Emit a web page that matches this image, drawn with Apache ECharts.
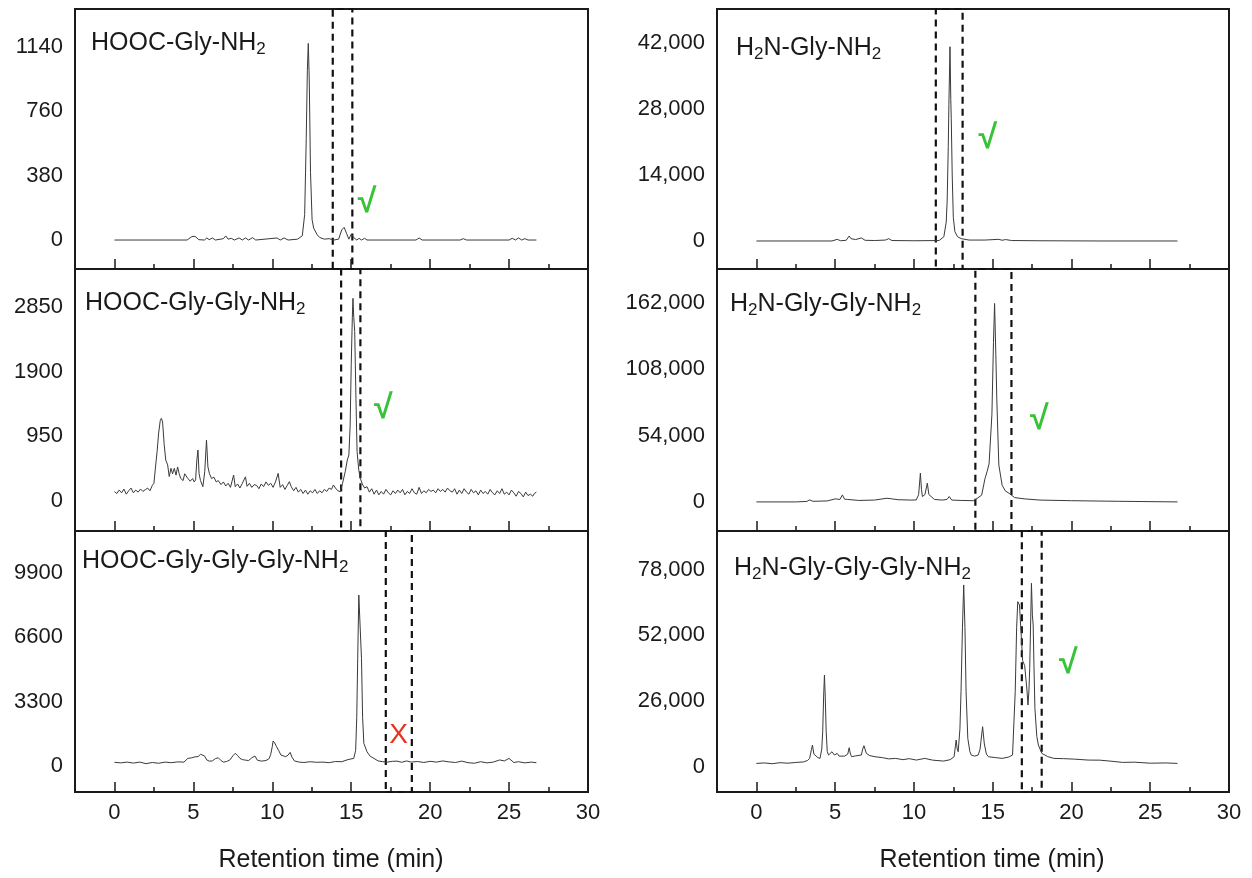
<!DOCTYPE html>
<html>
<head>
<meta charset="utf-8">
<title>Retention time chromatograms</title>
<script src="https://cdn.jsdelivr.net/npm/echarts@6/dist/echarts.min.js"></script>
<style>
  html, body { margin: 0; padding: 0; background: #fff; }
  #chart { width: 1252px; height: 878px; }
</style>
</head>
<body>
<div id="chart"></div>
<script>
// x axis (min)
const xLabelValues = [0, 5, 10, 15, 20, 25, 30];
const xMajorTicks = [0, 5, 10, 15, 20, 25];
const xMinorTicks = [2.5, 7.5, 12.5, 17.5, 22.5, 27.5];

// HOOC-Gly-NH2
const hooc1Time = [0, 4.6, 4.9, 5.1, 5.35, 5.7, 5.85, 6.0, 6.2, 6.4,
  6.9, 7.05, 7.2, 7.4, 7.6, 7.9, 8.1, 8.3, 8.5, 8.75,
  8.95, 10.3, 10.5, 10.75, 11.0, 11.6, 11.9, 12.05, 12.15, 12.22,
  12.28, 12.34, 12.42, 12.52, 12.62, 12.7, 12.85, 13.0, 13.3, 13.6,
  13.9, 14.2, 14.4, 14.55, 14.7, 14.85, 15.0, 15.15, 15.35, 15.5,
  15.65, 15.85, 16.0, 19.1, 19.3, 19.5, 21.9, 22.1, 22.3, 25.0,
  25.2, 25.4, 25.6, 25.8, 26.0, 26.2, 26.73];
const hooc1Signal = [0, 0, 20, 22, 2, 0, 12, 2, 12, 0,
  8, 24, 5, 10, 0, 12, 0, 12, 0, 14,
  0, 12, 0, 12, 0, 5, 25, 150, 600, 1000,
  1160, 950, 400, 120, 70, 80, 30, 15, 5, 8,
  0, 5, 60, 75, 40, 5, 35, 15, 0, 10,
  0, 10, 0, 0, 12, 0, 0, 8, 0, 0,
  10, 0, 12, 0, 8, 0, 0];

// HOOC-Gly-Gly-NH2
const hooc2Time = [0, 0.15, 0.3, 0.45, 0.6, 0.75, 0.9, 1.05, 1.2, 1.35,
  1.5, 1.65, 1.8, 1.95, 2.1, 2.25, 2.4, 2.5, 2.6, 2.7,
  2.8, 2.9, 2.97, 3.05, 3.15, 3.25, 3.37, 3.47, 3.58, 3.68,
  3.79, 3.9, 4.0, 4.1, 4.2, 4.35, 4.45, 4.54, 4.65, 4.8,
  4.95, 5.05, 5.14, 5.22, 5.29, 5.36, 5.45, 5.6, 5.72, 5.83,
  5.92, 6.02, 6.15, 6.3, 6.45, 6.58, 6.75, 6.9, 7.05, 7.2,
  7.35, 7.55, 7.65, 7.8, 7.95, 8.1, 8.3, 8.4, 8.55, 8.7,
  8.85, 9.0, 9.15, 9.3, 9.45, 9.6, 9.75, 9.9, 10.05, 10.2,
  10.37, 10.5, 10.65, 10.8, 10.95, 11.08, 11.2, 11.35, 11.5, 11.65,
  11.8, 11.95, 12.1, 12.25, 12.4, 12.55, 12.7, 12.85, 13.0, 13.15,
  13.3, 13.45, 13.6, 13.75, 13.87, 14.0, 14.15, 14.3, 14.45, 14.62,
  14.75, 14.85, 14.93, 15.0, 15.07, 15.11, 15.16, 15.22, 15.3, 15.37,
  15.48, 15.58, 15.7, 15.85, 16.0, 16.15, 16.3, 16.45, 16.6, 16.75,
  16.9, 17.05, 17.2, 17.35, 17.5, 17.65, 17.8, 17.95, 18.1, 18.25,
  18.4, 18.55, 18.7, 18.85, 19.0, 19.15, 19.3, 19.45, 19.6, 19.75,
  19.9, 20.05, 20.2, 20.35, 20.5, 20.65, 20.8, 20.95, 21.1, 21.25,
  21.4, 21.55, 21.7, 21.85, 22.0, 22.15, 22.3, 22.45, 22.6, 22.75,
  22.9, 23.05, 23.2, 23.35, 23.5, 23.65, 23.8, 23.95, 24.1, 24.25,
  24.4, 24.55, 24.7, 24.85, 25.0, 25.15, 25.3, 25.45, 25.6, 25.75,
  25.9, 26.05, 26.2, 26.35, 26.5, 26.6, 26.73];
const hooc2Signal = [137, 110, 160, 120, 175, 100, 150, 190, 120, 160,
  130, 175, 140, 165, 190, 150, 230, 260, 500, 725,
  1000, 1180, 1214, 1160, 830, 600, 530, 360, 480, 400,
  480, 380, 500, 400, 330, 300, 400, 406, 330, 290,
  330, 280, 310, 600, 749, 400, 300, 210, 430, 896,
  500, 400, 330, 350, 280, 300, 240, 280, 220, 260,
  200, 382, 210, 250, 190, 260, 355, 215, 260, 200,
  240, 230, 180, 250, 210, 280, 230, 260, 200, 280,
  406, 200, 240, 170, 230, 284, 210, 150, 200, 130,
  170, 110, 160, 100, 150, 120, 170, 110, 150, 120,
  170, 140, 190, 170, 235, 190, 150, 137, 260, 431,
  600, 676, 1100, 2000, 2700, 2977, 2700, 2490, 1500, 725,
  450, 330, 250, 190, 210, 130, 180, 100, 160, 90,
  140, 100, 170, 120, 90, 150, 110, 160, 120, 170,
  90, 140, 110, 180, 120, 100, 200, 110, 150, 120,
  170, 140, 160, 120, 180, 140, 170, 130, 190, 150,
  130, 180, 100, 160, 110, 180, 130, 100, 170, 120,
  150, 90, 160, 110, 140, 100, 170, 120, 90, 150,
  110, 180, 100, 130, 90, 160, 120, 70, 140, 110,
  60, 130, 80, 100, 70, 110, 130];

// HOOC-Gly-Gly-Gly-NH2
const hooc3Time = [0, 0.4, 0.8, 1.2, 1.6, 2.0, 2.4, 2.8, 3.2, 3.6,
  4.0, 4.4, 4.65, 4.9, 5.1, 5.3, 5.45, 5.57, 5.7, 5.85,
  6.0, 6.2, 6.4, 6.58, 6.75, 6.9, 7.1, 7.3, 7.5, 7.65,
  7.8, 7.95, 8.1, 8.3, 8.5, 8.7, 8.9, 9.05, 9.3, 9.6,
  9.8, 9.9, 10.0, 10.05, 10.15, 10.27, 10.4, 10.55, 10.7, 10.85,
  11.0, 11.13, 11.25, 11.4, 11.7, 12.0, 12.4, 12.8, 13.2, 13.6,
  14.0, 14.4, 14.8, 15.16, 15.28, 15.35, 15.41, 15.48, 15.58, 15.65,
  15.72, 15.8, 16.0, 16.2, 16.44, 16.7, 17.0, 17.3, 17.6, 17.9,
  18.2, 18.5, 18.8, 19.2, 19.6, 20.0, 20.4, 20.8, 21.2, 21.6,
  22.0, 22.4, 22.8, 23.2, 23.6, 24.0, 24.4, 24.7, 25.0, 25.3,
  25.6, 26.0, 26.4, 26.73];
const hooc3Signal = [190, 160, 200, 150, 200, 120, 180, 140, 200, 170,
  210, 200, 390, 420, 470, 480, 600, 700, 520, 310,
  250, 260, 380, 420, 280, 200, 230, 300, 520, 650,
  540, 390, 330, 300, 280, 420, 510, 300, 250, 280,
  380, 600, 1000, 1283, 1180, 990, 800, 560, 520, 480,
  560, 700, 450, 260, 200, 180, 220, 190, 200, 170,
  230, 220, 330, 390, 800, 2500, 5500, 8770, 8770, 5500,
  2500, 1160, 730, 500, 390, 260, 220, 200, 240, 250,
  190, 260, 200, 230, 180, 240, 200, 260, 210, 180,
  250, 170, 140, 220, 160, 200, 310, 260, 390, 180,
  220, 160, 200, 170];

// H2N-Gly-NH2
const amine1Time = [0, 4.8, 5.13, 5.35, 5.7, 5.89, 6.0, 6.05, 6.3, 6.66,
  6.9, 7.5, 8.2, 8.4, 8.6, 10.0, 11.6, 11.9, 12.05, 12.11,
  12.18, 12.22, 12.29, 12.34, 12.37, 12.43, 12.5, 12.6, 12.77, 13.0,
  13.5, 14.5, 15.39, 15.6, 15.82, 16.2, 18, 22, 26.73];
const amine1Signal = [0, 0, 350, 50, 150, 1050, 500, 750, 300, 650,
  150, 100, 200, 500, 100, 50, 100, 900, 4000, 8500,
  20000, 29000, 41200, 30000, 26000, 14000, 5000, 2000, 900, 500,
  200, 200, 350, 150, 300, 100, 50, 0, 0];

// H2N-Gly-Gly-NH2
const amine2Time = [0, 2.5, 3.2, 3.38, 3.6, 4.5, 5.02, 5.3, 5.46, 5.6,
  5.8, 6.5, 7.5, 8.29, 8.6, 9.0, 9.8, 10.15, 10.3, 10.41,
  10.48, 10.54, 10.7, 10.85, 10.95, 11.02, 11.3, 11.8, 12.1, 12.24,
  12.4, 13.0, 13.8, 14.3, 14.51, 14.65, 14.77, 14.95, 15.05, 15.12,
  15.2, 15.26, 15.39, 15.6, 15.8, 16.04, 16.4, 17.0, 18.0, 20.0,
  23.0, 26.73];
const amine2Signal = [0, 0, 400, 1600, 500, 800, 2500, 2000, 5700, 2200,
  2000, 1200, 1500, 3000, 2500, 1800, 1500, 1600, 6000, 23450,
  10000, 4400, 6000, 15270, 6000, 4400, 2000, 1500, 2000, 4400,
  1500, 1200, 1000, 5500, 19000, 25000, 31000, 71000, 130000, 161700,
  120000, 84000, 30000, 13600, 9000, 7000, 3500, 2500, 1500, 1000,
  500, 0];

// H2N-Gly-Gly-Gly-NH2
const amine3Time = [0, 0.5, 1.0, 1.5, 2.0, 2.5, 3.0, 3.25, 3.38, 3.5,
  3.56, 3.65, 3.71, 3.9, 4.04, 4.15, 4.21, 4.27, 4.32, 4.37,
  4.43, 4.5, 4.58, 4.7, 4.8, 4.95, 5.05, 5.13, 5.25, 5.35,
  5.6, 5.8, 5.89, 5.97, 6.05, 6.3, 6.66, 6.75, 6.83, 6.98,
  7.2, 7.53, 8.0, 8.4, 8.84, 9.3, 9.7, 10.15, 10.69, 11.2,
  11.89, 12.3, 12.55, 12.68, 12.75, 12.81, 12.92, 12.99, 13.08, 13.16,
  13.24, 13.31, 13.42, 13.55, 13.64, 13.85, 14.08, 14.2, 14.25, 14.36,
  14.47, 14.6, 14.73, 15.2, 15.6, 16.0, 16.26, 16.43, 16.52, 16.59,
  16.7, 16.81, 16.9, 16.96, 17.03, 17.09, 17.18, 17.24, 17.3, 17.35,
  17.46, 17.52, 17.57, 17.62, 17.68, 17.8, 17.9, 18.12, 18.5, 18.88,
  19.5, 20.2, 21.06, 21.8, 22.5, 23.24, 24, 25, 26, 26.73];
const amine3Signal = [1320, 1500, 1200, 1600, 1400, 1700, 1900, 2500, 3300, 7000,
  8580, 5000, 4620, 3600, 3300, 7000, 13860, 28000, 36300, 28000,
  13860, 6000, 4620, 5000, 5940, 4620, 5000, 5280, 4200, 3960,
  4200, 5000, 7524, 5000, 3960, 4300, 4620, 7000, 8316, 5280,
  4400, 3960, 3600, 3100, 3300, 2800, 3200, 2640, 3300, 2600,
  2244, 2800, 3960, 10560, 7000, 5940, 15000, 29700, 55000, 71940,
  55000, 29700, 11220, 6000, 4620, 4200, 4620, 7000, 9900, 15840,
  9000, 5000, 3960, 3600, 3300, 3800, 4620, 29700, 55000, 65340,
  64020, 52140, 42000, 42240, 40000, 40260, 30000, 24420, 30000, 38940,
  72600, 60000, 56100, 40000, 23100, 12000, 8580, 5280, 4000, 3300,
  3200, 3000, 2640, 2600, 2200, 1716, 1800, 1400, 1500, 1320];

// y tick labels
const hooc1Ticks = [0, 380, 760, 1140];
const hooc2Ticks = [0, 950, 1900, 2850];
const hooc3Ticks = [0, 3300, 6600, 9900];
const amine1Ticks = [0, 14000, 28000, 42000];
const amine2Ticks = [0, 54000, 108000, 162000];
const amine3Ticks = [0, 26000, 52000, 78000];

// dashed windows [start, end] (min) and check marks [time, signal]
const hooc1Window = [13.83, 15.07];
const hooc2Window = [14.36, 15.58];
const hooc3Window = [17.19, 18.84];
const amine1Window = [11.39, 13.09];
const amine2Window = [13.9, 16.19];
const amine3Window = [16.85, 18.11];
const hooc1Mark = [16.0, 220];
const hooc2Mark = [17.04, 1360];
const hooc3Mark = [18.0, 1590];
const amine1Mark = [14.69, 21800];
const amine2Mark = [17.96, 67100];
const amine3Mark = [19.8, 40900];

const FONT = '"Liberation Sans", Arial, sans-serif';
const INK = '#1a1a1a';
const GREEN = '#38c238';
const RED = '#e53423';

const cols = [{ left: 75, width: 513 }, { left: 717, width: 512 }];
const rows = [{ top: 9, height: 260 }, { top: 269, height: 262 }, { top: 531, height: 261 }];

const panels = [
  { col: 0, row: 0, time: hooc1Time, sig: hooc1Signal, yMin: -171, yMax: 1363, ticks: hooc1Ticks,
    title: '{n|HOOC-Gly-NH}{s|2}', tLeft: 91, tTop: 28, win: hooc1Window, mark: hooc1Mark, ok: true },
  { col: 0, row: 1, time: hooc2Time, sig: hooc2Signal, yMin: -441, yMax: 3408, ticks: hooc2Ticks,
    title: '{n|HOOC-Gly-Gly-NH}{s|2}', tLeft: 85, tTop: 288, win: hooc2Window, mark: hooc2Mark, ok: true },
  { col: 0, row: 2, time: hooc3Time, sig: hooc3Signal, yMin: -1334, yMax: 12056, ticks: hooc3Ticks,
    title: '{n|HOOC-Gly-Gly-Gly-NH}{s|2}', tLeft: 82, tTop: 546, win: hooc3Window, mark: hooc3Mark, ok: false },
  { col: 1, row: 0, time: amine1Time, sig: amine1Signal, yMin: -5940, yMax: 49200, ticks: amine1Ticks,
    title: '{n|H}{s|2}{n|N-Gly-NH}{s|2}', tLeft: 736, tTop: 33, win: amine1Window, mark: amine1Mark, ok: true },
  { col: 1, row: 1, time: amine2Time, sig: amine2Signal, yMin: -23700, yMax: 189800, ticks: amine2Ticks,
    title: '{n|H}{s|2}{n|N-Gly-Gly-NH}{s|2}', tLeft: 730, tTop: 289, win: amine2Window, mark: amine2Mark, ok: true },
  { col: 1, row: 2, time: amine3Time, sig: amine3Signal, yMin: -10000, yMax: 93300, ticks: amine3Ticks,
    title: '{n|H}{s|2}{n|N-Gly-Gly-Gly-NH}{s|2}', tLeft: 734, tTop: 553, win: amine3Window, mark: amine3Mark, ok: true }
];

const titleRich = {
  n: { fontSize: 25, fontWeight: 'normal', fontFamily: FONT, color: INK, lineHeight: 30 },
  s: { fontSize: 17, fontWeight: 'normal', fontFamily: FONT, color: INK, lineHeight: 14, verticalAlign: 'bottom' }
};

const grid = [], xAxis = [], yAxis = [], series = [], title = [];

panels.forEach(function (p, i) {
  const bottom = p.row === 2;
  grid.push({
    left: cols[p.col].left, width: cols[p.col].width,
    top: rows[p.row].top, height: rows[p.row].height,
    show: true, borderColor: INK, borderWidth: 2, containLabel: false
  });
  // main x axis: major ticks + labels
  xAxis.push({
    type: 'value', gridIndex: i, min: -2.5, max: 30, position: 'bottom',
    axisLine: { show: false, onZero: false }, splitLine: { show: false },
    axisTick: { show: true, inside: true, length: 10, customValues: xMajorTicks,
      lineStyle: { color: INK, width: 1.5 } },
    axisLabel: { show: bottom, customValues: xLabelValues, margin: 10,
      fontSize: 22, fontFamily: FONT, color: INK }
  });
  // second x axis for the short minor ticks
  xAxis.push({
    type: 'value', gridIndex: i, min: -2.5, max: 30, position: 'bottom',
    axisLine: { show: false, onZero: false }, splitLine: { show: false }, axisLabel: { show: false },
    axisTick: { show: true, inside: true, length: 5, customValues: xMinorTicks,
      lineStyle: { color: INK, width: 1.5 } }
  });
  yAxis.push({
    type: 'value', gridIndex: i, min: p.yMin, max: p.yMax,
    axisLine: { show: false, onZero: false }, axisTick: { show: false }, splitLine: { show: false },
    axisLabel: {
      customValues: p.ticks, margin: 12, fontSize: 22, fontFamily: FONT, color: INK,
      formatter: p.col === 1
        ? function (v) { return v.toLocaleString('en-US'); }
        : function (v) { return String(v); }
    }
  });
  title.push({
    text: p.title, left: p.tLeft, top: p.tTop, padding: 0,
    textStyle: { fontWeight: 'normal', rich: titleRich }
  });
  series.push({
    type: 'line', xAxisIndex: i * 2, yAxisIndex: i,
    data: p.time.map(function (t, k) { return [t, p.sig[k]]; }),
    showSymbol: false, smooth: false,
    lineStyle: { color: '#3a3a3a', width: 1 },
    markArea: {
      silent: true,
      itemStyle: { color: 'rgba(0,0,0,0)', borderColor: '#111', borderWidth: 2.2,
        borderType: [7, 5] },
      data: [[{ xAxis: p.win[0], yAxis: p.yMin }, { xAxis: p.win[1], yAxis: p.yMax }]]
    },
    markPoint: {
      silent: true, symbol: 'circle', symbolSize: 1,
      itemStyle: { color: 'rgba(0,0,0,0)' },
      label: {
        show: true, position: 'inside',
        formatter: p.ok ? '\u221A' : 'X',
        color: p.ok ? GREEN : RED,
        fontSize: p.ok ? 34 : 28, fontWeight: p.ok ? 'bold' : 'normal', fontFamily: FONT
      },
      data: [{ coord: p.mark }]
    }
  });
});

const chart = echarts.init(document.getElementById('chart'), null, { renderer: 'canvas' });
chart.setOption({
  animation: false,
  backgroundColor: '#fff',
  title: title,
  grid: grid,
  xAxis: xAxis,
  yAxis: yAxis,
  series: series,
  graphic: [
    { type: 'text', x: 331, y: 860, style: { text: 'Retention time (min)', font: '25px ' + FONT,
      fill: INK, align: 'center', verticalAlign: 'middle' } },
    { type: 'text', x: 992, y: 860, style: { text: 'Retention time (min)', font: '25px ' + FONT,
      fill: INK, align: 'center', verticalAlign: 'middle' } }
  ]
});
</script>
</body>
</html>
